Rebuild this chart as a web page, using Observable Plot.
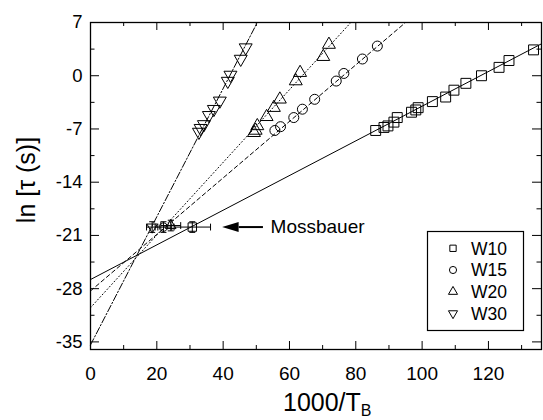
<!DOCTYPE html>
<html><head><meta charset="utf-8">
<script src="https://cdn.jsdelivr.net/npm/d3@7"></script>
<script src="https://cdn.jsdelivr.net/npm/@observablehq/plot@0.6"></script>
<style>
body{margin:0;background:#fff}
svg{font-family:"Liberation Sans",Arial,Helvetica,sans-serif}
</style>
</head><body><div id="chart"></div>
<script>
// ---- data ----
const w10X = [133.6,126.2,123.2,117.9,113.2,109.6,107.1,103.1,98.8,98.1,96.8,92.5,91.5,89.7,88.5,86.0];
const w10Y = [3.4,2.0,1.1,0.0,-1.0,-1.9,-2.8,-3.4,-4.2,-4.5,-4.8,-5.5,-6.1,-6.6,-6.8,-7.2];
const w15X = [86.5,82.0,76.4,74.1,67.6,63.9,61.3,57.3,55.6];
const w15Y = [3.9,2.2,0.3,-0.7,-3.1,-4.4,-5.5,-6.7,-7.2];
const w20X = [71.9,70.2,63.2,61.9,57.1,55.3,53.1,50.3,49.8,49.3];
const w20Y = [4.1,2.5,0.4,-0.7,-3.1,-4.2,-5.4,-6.6,-7.2,-7.5];
const w30X = [46.8,45.3,42.2,41.4,39.0,37.2,35.7,34.2,33.2,32.7];
const w30Y = [3.7,2.2,0.1,-0.7,-3.3,-4.4,-5.2,-6.4,-6.9,-7.4];

// fitted lines: endpoints
const fitW10 = [[0,-26.8],[136,4.2]];
const fitW15 = [[0,-28.3],[95,7]];
const fitW20 = [[0,-30.5],[78.5,7]];
const fitW30 = [[0,-35.4],[50.3,7]];

// Mossbauer points
const mossSeries = ["W10","W15","W20","W30"];
const mossX  = [30.7,22.0,24.2,18.6];
const mossY  = [-19.9,-19.9,-19.7,-19.9];
const mossXErr = [5.5,2.5,3.0,1.7];
const mossYErr = [0.7,0.7,0.7,0.7];

// annotation
const arrowX = [52.0,44.7,39.7]; // tail, head base, tip
const arrowYv = -19.9;
const mossLabel = "Mossbauer";
const mossLabelX = 54.3;

// axes
const xMajor = [0,20,40,60,80,100,120];
const xMinor = [10,30,50,70,90,110,130];
const yMajor = [-35,-28,-21,-14,-7,0,7];
const yMinor = [-31.5,-24.5,-17.5,-10.5,-3.5,3.5];
const xDomain = [0,136];
const yDomain = [-36,7];
const legendNames = ["W10","W15","W20","W30"];

// ---- layout ----
const W=543, H=420, mL=90, mR=2, mT=22, mB=71;
const innerW = W-mL-mR, innerH = H-mT-mB;

const triDown = {draw(ctx, size){
  const y = -Math.sqrt(size/(Math.sqrt(3)*3)), s3 = Math.sqrt(3);
  ctx.moveTo(0,-y*2); ctx.lineTo(-s3*y,y); ctx.lineTo(s3*y,y); ctx.closePath();
}};
const arrowHead = {draw(ctx){ ctx.moveTo(0,0); ctx.lineTo(16.5,-5); ctx.lineTo(16.5,5); ctx.closePath(); }};

const pts = (xs,ys)=>xs.map((x,i)=>({x, y:ys[i]}));
const fit = a=>a.map(([x,y])=>({x,y}));
const moss = mossSeries.map((s,i)=>({s, x:mossX[i], y:mossY[i], ex:mossXErr[i], ey:mossYErr[i]}));
const symFor = {W10:"square", W15:"circle", W20:"triangle", W30:triDown};
const rFor = {W10:5.6, W15:5, W20:4.6, W30:4.6};

const dotOpts = (sym,r)=>({x:"x", y:"y", symbol:sym, r, stroke:"black", fill:"none", strokeWidth:1});

const plot = Plot.plot({
  width:W, height:H, marginLeft:mL, marginRight:mR, marginTop:mT, marginBottom:mB,
  x:{domain:xDomain}, y:{domain:yDomain},
  style:{fontFamily:'"Liberation Sans",Arial,sans-serif', background:"white", color:"black"},
  marks:[
    // fit lines
    Plot.line(fit(fitW10), {x:"x", y:"y", stroke:"black", strokeWidth:1}),
    Plot.line(fit(fitW15), {x:"x", y:"y", stroke:"black", strokeWidth:1, strokeDasharray:"4,3"}),
    Plot.line(fit(fitW20), {x:"x", y:"y", stroke:"black", strokeWidth:1, strokeDasharray:"1,2.5"}),
    Plot.line(fit(fitW30), {x:"x", y:"y", stroke:"black", strokeWidth:1, strokeDasharray:"7,2,1.5,2"}),
    // data points
    Plot.dot(pts(w10X,w10Y), dotOpts("square",5.6)),
    Plot.dot(pts(w15X,w15Y), dotOpts("circle",5)),
    Plot.dot(pts(w20X,w20Y), dotOpts("triangle",4.8)),
    Plot.dot(pts(w30X,w30Y), dotOpts(triDown,4.8)),
    // Mossbauer error bars
    Plot.link(moss, {x1:d=>d.x-d.ex, x2:d=>d.x+d.ex, y1:"y", y2:"y", stroke:"black", strokeWidth:1}),
    Plot.link(moss, {x1:d=>d.x-d.ex, x2:d=>d.x-d.ex, y1:d=>d.y-0.45, y2:d=>d.y+0.45, stroke:"black", strokeWidth:1}),
    Plot.link(moss, {x1:d=>d.x+d.ex, x2:d=>d.x+d.ex, y1:d=>d.y-0.45, y2:d=>d.y+0.45, stroke:"black", strokeWidth:1}),
    Plot.link(moss, {x1:"x", x2:"x", y1:d=>d.y-d.ey, y2:d=>d.y+d.ey, stroke:"black", strokeWidth:1}),
    Plot.link(moss, {x1:d=>d.x-0.9, x2:d=>d.x+0.9, y1:d=>d.y-d.ey, y2:d=>d.y-d.ey, stroke:"black", strokeWidth:1}),
    Plot.link(moss, {x1:d=>d.x-0.9, x2:d=>d.x+0.9, y1:d=>d.y+d.ey, y2:d=>d.y+d.ey, stroke:"black", strokeWidth:1}),
    ...mossSeries.map(s=>Plot.dot(moss.filter(d=>d.s===s), dotOpts(symFor[s], rFor[s]*0.85))),
    // arrow annotation
    Plot.link([{x1:arrowX[0], x2:arrowX[1], y:arrowYv}], {x1:"x1", x2:"x2", y1:"y", y2:"y", stroke:"black", strokeWidth:2}),
    Plot.dot([{x:arrowX[2], y:arrowYv}], {x:"x", y:"y", symbol:arrowHead, fill:"black", stroke:"none"}),
    Plot.text([{x:mossLabelX, y:arrowYv, t:mossLabel}], {x:"x", y:"y", text:"t", textAnchor:"start", fontSize:19, fill:"black"}),
    // ticks (inward)
    Plot.ruleX(xMajor, {stroke:"black", insetTop:innerH-8}),
    Plot.ruleX(xMinor, {stroke:"black", insetTop:innerH-4}),
    Plot.ruleX(xMajor, {stroke:"black", insetBottom:innerH-8}),
    Plot.ruleX(xMinor, {stroke:"black", insetBottom:innerH-4}),
    Plot.ruleY(yMajor, {stroke:"black", insetRight:innerW-9}),
    Plot.ruleY(yMinor, {stroke:"black", insetRight:innerW-4.5}),
    Plot.ruleY(yMajor, {stroke:"black", insetLeft:innerW-9}),
    Plot.ruleY(yMinor, {stroke:"black", insetLeft:innerW-4.5}),
    Plot.frame({stroke:"black", strokeWidth:1.3}),
    // tick labels
    Plot.axisX(xMajor, {tickSize:0, tickPadding:17, fontSize:19, label:null, tickFormat:d=>String(d)}),
    Plot.axisY(yMajor, {tickSize:0, tickPadding:8, fontSize:18.5, label:null, tickFormat:d=>String(d)})
  ]
});
document.getElementById("chart").appendChild(plot);

// ---- axis titles and legend ----
const svg = d3.select(plot);
const ff = '"Liberation Sans",Arial,sans-serif';
const xt = svg.append("text").attr("x",283).attr("y",411).attr("text-anchor","start")
  .attr("font-size",25).attr("font-family",ff).attr("fill","black");
xt.append("tspan").text("1000/T");
xt.append("tspan").attr("font-size",16).attr("dy",5).text("B");

svg.append("text").attr("transform","translate(35,180) rotate(-90)").attr("text-anchor","middle")
  .attr("font-size",25).attr("font-family",ff).attr("fill","black").text("ln [τ (s)]");

const lg = svg.append("g");
lg.append("rect").attr("x",427.5).attr("y",231.5).attr("width",96).attr("height",99)
  .attr("fill","white").attr("stroke","black").attr("stroke-width",1.2);
const legSym = [d3.symbolSquare, d3.symbolCircle, d3.symbolTriangle, triDown];
const legSize = [40, 40, 36, 36];
legendNames.forEach((n,i)=>{
  const cy = 248.3 + i*21.7;
  lg.append("path").attr("d", d3.symbol(legSym[i], legSize[i])()).attr("transform",`translate(453,${cy})`)
    .attr("fill","none").attr("stroke","black").attr("stroke-width",1);
  lg.append("text").attr("x",471).attr("y",cy).attr("dy","0.36em").attr("text-anchor","start").attr("font-size",17.5)
    .attr("font-family",ff).attr("fill","black").text(n);
});
</script>
</body></html>
